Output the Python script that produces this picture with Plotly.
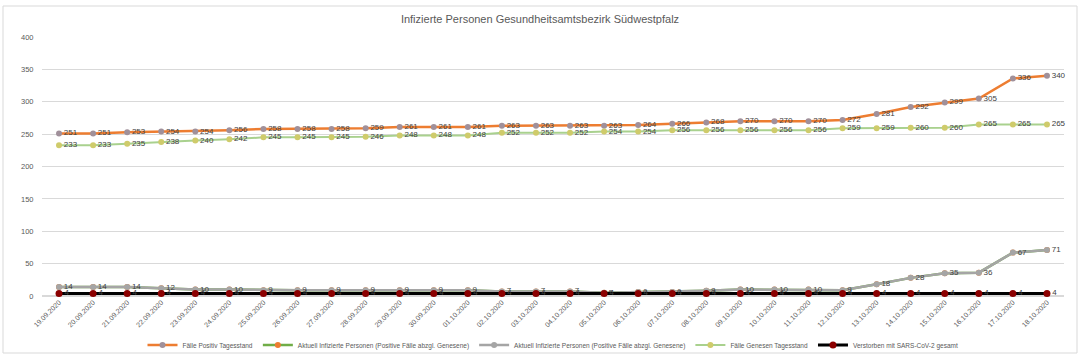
import plotly.graph_objects as go

dates = ["19.09.2020", "20.09.2020", "21.09.2020", "22.09.2020", "23.09.2020", "24.09.2020",
         "25.09.2020", "26.09.2020", "27.09.2020", "28.09.2020", "29.09.2020", "30.09.2020",
         "01.10.2020", "02.10.2020", "03.10.2020", "04.10.2020", "05.10.2020", "06.10.2020",
         "07.10.2020", "08.10.2020", "09.10.2020", "10.10.2020", "11.10.2020", "12.10.2020",
         "13.10.2020", "14.10.2020", "15.10.2020", "16.10.2020", "17.10.2020", "18.10.2020"]

positiv = [251, 251, 253, 254, 254, 256, 258, 258, 258, 259, 261, 261, 261, 263, 263,
           263, 263, 264, 266, 268, 270, 270, 270, 272, 281, 292, 299, 305, 336, 340]

aktuell_green = [14, 14, 14, 12, 10, 10, 9, 9, 9, 9, 9, 9, 9, 7, 7,
                 7, 5, 6, 6, 8, 10, 10, 10, 9, 18, 28, 35, 36, 67, 71]

aktuell = [14, 14, 14, 12, 10, 10, 9, 9, 9, 9, 9, 9, 9, 7, 7,
           7, 5, 6, 6, 8, 10, 10, 10, 9, 18, 28, 35, 36, 67, 71]

genesen = [233, 233, 235, 238, 240, 242, 245, 245, 245, 246, 248, 248, 248, 252, 252,
           252, 254, 254, 256, 256, 256, 256, 256, 259, 259, 260, 260, 265, 265, 265]

verstorben = [4] * 30

names = ["Fälle Positiv Tagesstand",
         "Aktuell Infizierte Personen (Positive Fälle abzgl. Genesene)",
         "Aktuell Infizierte Personen (Positive Fälle abzgl. Genesene)",
         "Fälle Genesen Tagesstand",
         "Verstorben mit SARS-CoV-2 gesamt"]

lblfont = dict(size=8, color="#404040", family="Liberation Sans, Arial, sans-serif")

fig = go.Figure()

fig.add_trace(go.Scatter(
    x=dates, y=positiv, name=names[0], mode="lines+markers+text",
    line=dict(color="#ED7D31", width=2.5),
    marker=dict(color="#A0909A", size=6),
    text=[str(v) for v in positiv], textposition="middle right", textfont=lblfont,
    cliponaxis=False))

fig.add_trace(go.Scatter(
    x=dates, y=aktuell_green, name=names[1], mode="lines+markers",
    line=dict(color="#70AD47", width=2.5),
    marker=dict(color="#ED7D31", size=6),
    cliponaxis=False))

fig.add_trace(go.Scatter(
    x=dates, y=aktuell, name=names[2], mode="lines+markers+text",
    line=dict(color="#A5A5A5", width=2.5),
    marker=dict(color="#A5A5A5", size=6),
    text=[str(v) for v in aktuell], textposition="middle right", textfont=lblfont,
    cliponaxis=False))

fig.add_trace(go.Scatter(
    x=dates, y=genesen, name=names[3], mode="lines+markers+text",
    line=dict(color="#A9D18E", width=2),
    marker=dict(color="#CFCB6B", size=6),
    text=[str(v) for v in genesen], textposition="middle right", textfont=lblfont,
    cliponaxis=False))

fig.add_trace(go.Scatter(
    x=dates, y=verstorben, name=names[4], mode="lines+markers+text",
    line=dict(color="#000000", width=3),
    marker=dict(color="#8B0000", size=7),
    text=[str(v) for v in verstorben], textposition="middle right", textfont=lblfont,
    cliponaxis=False))

W, H = 1080, 359
L, R, T, B = 42, 16, 37, 63
pw, ph = W - L - R, H - T - B

def px_x(p):
    return (p - L) / pw

def px_y(p):
    return (H - B - p) / ph

fig.update_layout(
    width=W, height=H,
    margin=dict(l=L, r=R, t=T, b=B, autoexpand=False),
    paper_bgcolor="white", plot_bgcolor="white",
    font=dict(family="Liberation Sans, Arial, sans-serif", color="#595959"),
    title=dict(text="Infizierte Personen Gesundheitsamtsbezirk Südwestpfalz",
               x=0.5, xanchor="center", y=1 - 19 / H, yanchor="middle",
               font=dict(size=11, color="#595959")),
    showlegend=True,
    legend=dict(orientation="h", x=0.5, xanchor="center", y=px_y(345), yanchor="middle",
                font=dict(size=6.5, color="#595959"), bgcolor="rgba(0,0,0,0)",
                itemwidth=30, tracegroupgap=0),
    xaxis=dict(type="category", tickangle=-45, tickfont=dict(size=7, color="#595959"),
               showgrid=False, showline=False, zeroline=False, ticks="",
               automargin=False, range=[-0.5, len(dates) - 0.5]),
    yaxis=dict(range=[0, 400], dtick=50, tickfont=dict(size=7.5, color="#595959"),
               showgrid=True, gridcolor="#D9D9D9", gridwidth=1, zeroline=True,
               zerolinecolor="#D9D9D9", showline=False, ticks="outside", ticklen=6,
               tickcolor="white", automargin=False),
    shapes=[dict(type="rect", xref="paper", yref="paper",
                 x0=px_x(3), x1=px_x(1077), y0=px_y(353), y1=px_y(6),
                 line=dict(color="#D9D9D9", width=1), fillcolor="rgba(0,0,0,0)",
                 layer="below")],
)

fig.write_html("out.html",
               config={"displayModeBar": False},
               post_script="document.body.style.margin='0';document.body.style.overflow='hidden';")
